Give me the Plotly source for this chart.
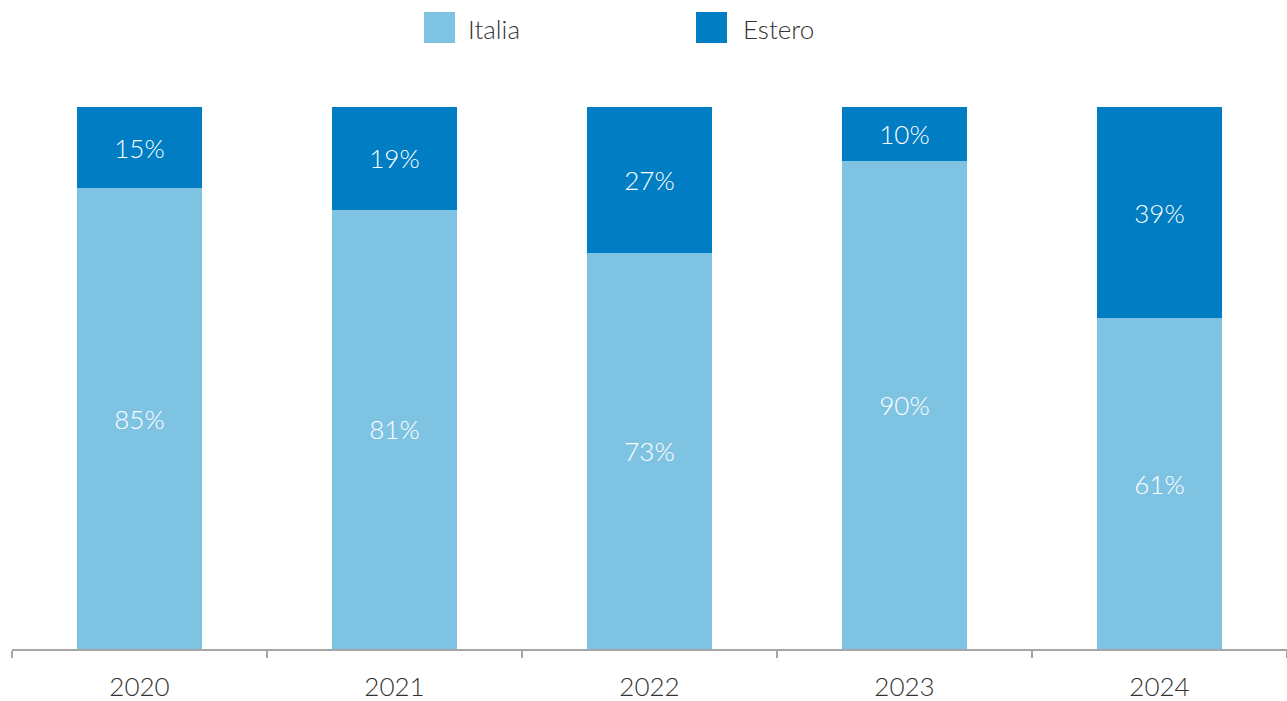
import plotly.graph_objects as go

years = ["2020", "2021", "2022", "2023", "2024"]
italia = [85, 81, 73, 90, 61]
estero = [15, 19, 27, 10, 39]
series_names = ["Italia", "Estero"]

col_italia = "#7FC3E3"
col_estero = "#007DC3"
axis_grey = "#A6A6A6"
font_fam = "Lato"
txt_size = 26

fig = go.Figure()
for name, vals, col in [(series_names[0], italia, col_italia), (series_names[1], estero, col_estero)]:
    fig.add_trace(go.Bar(
        x=years, y=[v / 100 for v in vals], name=name,
        marker=dict(color=col, line=dict(width=0)),
        text=[f"{v}%" for v in vals], textposition="inside",
        insidetextanchor="middle",
        textfont=dict(family=font_fam, size=txt_size, color="white", weight=300),
        showlegend=False, hoverinfo="skip",
    ))

# legend drawn as large swatches with labels: (name, colour, swatch left px, text offset px)
legend_items = [(series_names[0], col_italia, 424, 42), (series_names[1], col_estero, 696, 45)]
for name, col, x0, dx in legend_items:
    fig.add_shape(type="rect", xref="paper", yref="paper",
                  x0=(x0 - 12) / 1275, x1=(x0 + 31 - 12) / 1275,
                  y0=(649 - 12) / 542, y1=(649 - 43) / 542,
                  fillcolor=col, line=dict(width=0))
    fig.add_annotation(xref="paper", yref="paper",
                       x=(x0 + dx - 12) / 1275, y=(649 - 29) / 542,
                       xanchor="left", yanchor="middle", showarrow=False,
                       text=name, font=dict(family=font_fam, size=txt_size, color="#333333", weight=300))

fig.update_layout(
    barmode="stack", bargap=0.51,
    width=1287, height=701,
    margin=dict(l=12, r=0, t=107, b=52),
    plot_bgcolor="white", paper_bgcolor="white",
    font=dict(family=font_fam, color="#333333"),
    xaxis=dict(type="category", showline=True, linecolor=axis_grey, linewidth=2,
               ticks="outside", tickson="boundaries", ticklen=7, tickwidth=2, tickcolor=axis_grey,
               tickfont=dict(family=font_fam, size=txt_size, color="#333333", weight=300),
               ticklabelstandoff=14, showgrid=False, automargin=False),
    yaxis=dict(range=[0, 1], visible=False, showgrid=False, automargin=False),
)

fig.write_html("out.html")
